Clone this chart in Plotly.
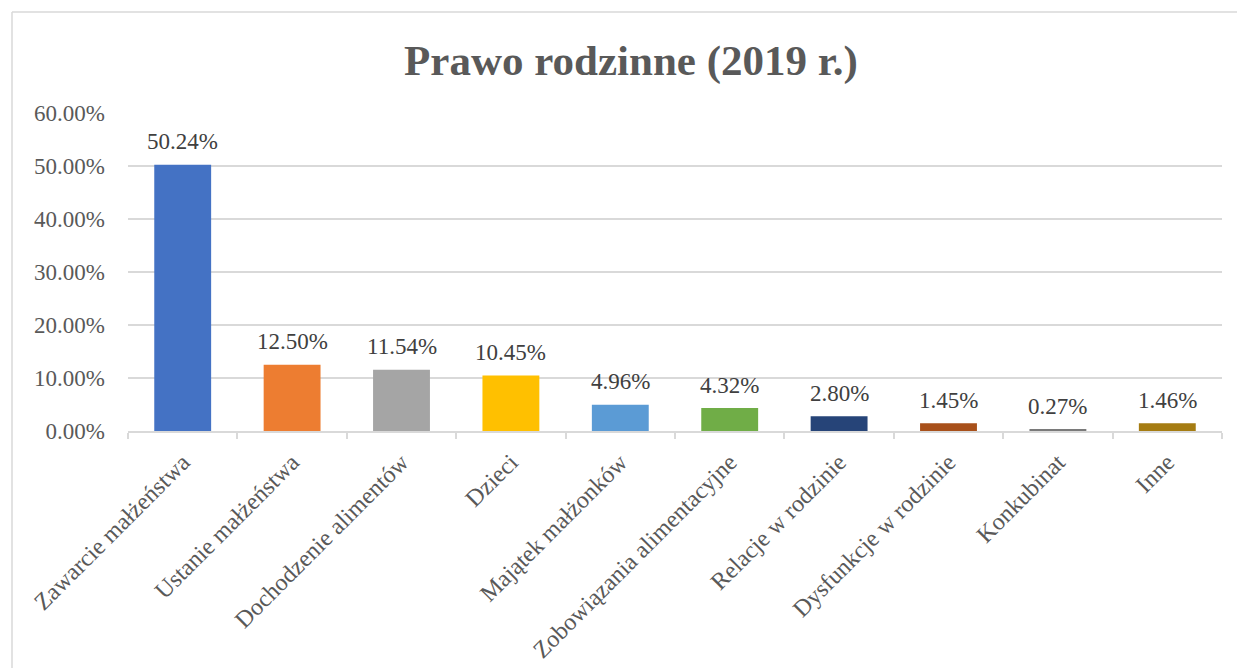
import plotly.graph_objects as go

categories = [
    "Zawarcie małżeństwa", "Ustanie małżeństwa", "Dochodzenie alimentów", "Dzieci",
    "Majątek małżonków", "Zobowiązania alimentacyjne", "Relacje w rodzinie",
    "Dysfunkcje w rodzinie", "Konkubinat", "Inne",
]
shares = [0.5024, 0.1250, 0.1154, 0.1045, 0.0496, 0.0432, 0.0280, 0.0145, 0.0027, 0.0146]
bar_colors = ["#4472C4", "#ED7D31", "#A5A5A5", "#FFC000", "#5B9BD5",
              "#70AD47", "#264478", "#A8501A", "#7A7A7A", "#A57C12"]

SERIF = "Liberation Serif, Times New Roman, serif"
GRID = "#d9d9d9"

fig = go.Figure(go.Bar(
    x=categories, y=shares, marker=dict(color=bar_colors, line=dict(width=0)),
    width=0.52, showlegend=False, hoverinfo="x+y"))

for c, v in zip(categories, shares):
    fig.add_annotation(x=c, y=v, text=f"{v * 100:.2f}%", showarrow=False,
                       yanchor="middle", yshift=23,
                       font=dict(family=SERIF, size=23, color="#404040"))

W, H = 1237, 668
L, R, T, B = 128, 15, 113, 237
pw, ph = W - L - R, H - T - B
# outer chart frame (only top and left edges are in view)
fx0, fy1 = (12 - L) / pw, (H - 12 - B) / ph
fig.add_shape(type="line", xref="paper", yref="paper", x0=fx0, x1=(W + 20 - L) / pw,
              y0=fy1, y1=fy1, line=dict(color=GRID, width=1.5), layer="below")
fig.add_shape(type="line", xref="paper", yref="paper", x0=fx0, x1=fx0,
              y0=(-20 - B) / ph, y1=fy1, line=dict(color=GRID, width=1.5), layer="below")

fig.update_layout(
    width=W, height=H,
    margin=dict(l=L, r=R, t=T, b=B),
    paper_bgcolor="white", plot_bgcolor="white",
    font=dict(family=SERIF, color="#595959"),
    title=dict(text="<b>Prawo rodzinne (2019 r.)</b>", x=631 / W, xanchor="center",
               y=1 - 60 / H, yanchor="middle",
               font=dict(family=SERIF, size=43, color="#595959")),
    xaxis=dict(tickangle=-45, tickfont=dict(size=24, color="#595959"),
               showline=True, linecolor=GRID, linewidth=1.5,
               ticks="outside", tickson="boundaries", tickcolor=GRID, ticklen=6,
               tickwidth=1.5, showgrid=False, ticklabelstandoff=6, automargin=False),
    yaxis=dict(range=[0, 0.6], dtick=0.1, tickformat=".2%",
               tickfont=dict(size=23, color="#595959"),
               gridcolor=GRID, gridwidth=1.5, zeroline=False, showline=False,
               ticks="", ticklabelstandoff=22, automargin=False),
)

fig.write_html("out.html", config={"displayModeBar": False},
               post_script="document.body.style.margin='0';")
